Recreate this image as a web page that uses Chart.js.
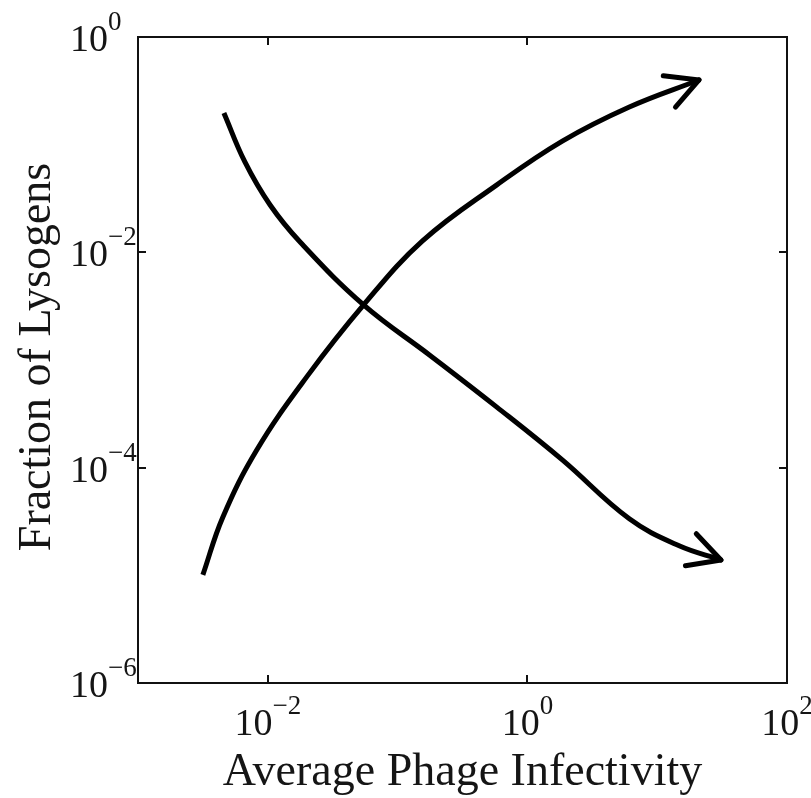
<!DOCTYPE html>
<html>
<head>
<meta charset="utf-8">
<script src="https://cdn.jsdelivr.net/npm/chart.js@4.4.1/dist/chart.umd.min.js"></script>
<style>
  html, body { margin: 0; padding: 0; background: #fff; }
  #wrap { width: 811px; height: 798px; }
</style>
</head>
<body>
<div id="wrap"><canvas id="mycanvas" width="811" height="798"></canvas></div>
<script>
// lysogen fraction going up with infectivity
var riseX = [0.00316, 0.00451, 0.00822, 0.01995, 0.0547, 0.1556, 0.578, 1.858, 6.10, 21.0];
var riseY = [1.01e-5, 3.49e-5, 1.46e-4, 6.97e-4, 3.25e-3, 0.01276, 0.0421, 0.108, 0.224, 0.399];

// lysogen fraction going down with infectivity
var fallX = [0.00459, 0.00666, 0.01042, 0.01781, 0.0547, 0.176, 0.578, 1.858, 6.10, 14.76, 31.0];
var fallY = [0.197, 0.0691, 0.0275, 0.01240, 3.25e-3, 1.114e-3, 3.67e-4, 1.18e-4, 3.35e-5, 1.88e-5, 1.39e-5];

// decade ticks and their exponents
var xTicks = [1e-2, 1e0, 1e2];
var xExp = ["\u22122", "0", "2"];
var yTicks = [1e0, 1e-2, 1e-4, 1e-6];
var yExp = ["0", "\u22122", "\u22124", "\u22126"];

var xTitle = "Average Phage Infectivity";
var yTitle = "Fraction of Lysogens";

var serif = "'Liberation Serif', 'Times New Roman', serif";
var ink = "#151515";

function toPoints(xs, ys) {
	var pts = [];
	for (var i in xs) {
		pts.push({x: xs[i], y: ys[i]});
	}
	return pts;
}

function line(ctx, x1, y1, x2, y2) {
	ctx.beginPath();
	ctx.moveTo(x1, y1);
	ctx.lineTo(x2, y2);
	ctx.stroke();
}

// "10" with a raised exponent, x is where the label starts
function powerLabel(ctx, x, base, exp) {
	ctx.font = "38px " + serif;
	ctx.fillText("10", x, base);
	var w = ctx.measureText("10").width;
	ctx.font = "27px " + serif;
	ctx.fillText(exp, x + w, base - 21);
}

function powerWidth(ctx, exp) {
	ctx.font = "38px " + serif;
	var w = ctx.measureText("10").width;
	ctx.font = "27px " + serif;
	return w + ctx.measureText(exp).width;
}

// box, inward ticks, labels and titles
var axesBox = {
	id: "axesBox",
	afterDraw: function(chart) {
		var ctx = chart.ctx;
		var a = chart.chartArea;
		var xs = chart.scales.x;
		var ys = chart.scales.y;
		ctx.save();
		ctx.strokeStyle = "#111";
		ctx.lineWidth = 2;
		ctx.lineCap = "butt";
		ctx.strokeRect(a.left, a.top, a.right - a.left, a.bottom - a.top);

		for (var i in xTicks) {
			var px = Math.round(xs.getPixelForValue(xTicks[i]));
			line(ctx, px, a.bottom, px, a.bottom - 8);
			line(ctx, px, a.top, px, a.top + 8);
		}
		for (var j in yTicks) {
			var py = Math.round(ys.getPixelForValue(yTicks[j]));
			line(ctx, a.left, py, a.left + 8, py);
			line(ctx, a.right, py, a.right - 8, py);
		}

		ctx.fillStyle = ink;
		ctx.textAlign = "left";
		ctx.textBaseline = "alphabetic";
		for (var i in xTicks) {
			var px = xs.getPixelForValue(xTicks[i]);
			var w = powerWidth(ctx, xExp[i]);
			powerLabel(ctx, px - w / 2, a.bottom + 52, xExp[i]);
		}
		for (var j in yTicks) {
			var py = ys.getPixelForValue(yTicks[j]);
			powerLabel(ctx, a.left - 68, py + 14, yExp[j]);
		}

		ctx.font = "46px " + serif;
		ctx.textAlign = "center";
		ctx.fillText(xTitle, (a.left + a.right) / 2, a.bottom + 102);

		ctx.translate(50, (a.top + a.bottom) / 2 - 3);
		ctx.rotate(-Math.PI / 2);
		ctx.fillText(yTitle, 0, 0);
		ctx.restore();
	}
};

// open arrow heads at the end of each curve
var arrowHeads = {
	id: "arrowHeads",
	afterDatasetsDraw: function(chart) {
		var ctx = chart.ctx;
		ctx.save();
		ctx.strokeStyle = "#000";
		ctx.lineWidth = 5;
		ctx.lineCap = "round";
		for (var d = 0; d < chart.data.datasets.length; d++) {
			var pts = chart.getDatasetMeta(d).data;
			var tip = pts[pts.length - 1];
			var prev = pts[pts.length - 2];
			var back = Math.atan2(prev.y - tip.y, prev.x - tip.x);
			var len = 36;
			var spread = 28 * Math.PI / 180;
			line(ctx, tip.x, tip.y, tip.x + len * Math.cos(back + spread), tip.y + len * Math.sin(back + spread));
			line(ctx, tip.x, tip.y, tip.x + len * Math.cos(back - spread), tip.y + len * Math.sin(back - spread));
		}
		ctx.restore();
	}
};

var chartdata = {
	datasets: [
		{
			label: "rising",
			data: toPoints(riseX, riseY),
			borderColor: "#000",
			borderWidth: 5,
			borderCapStyle: "butt",
			tension: 0.4,
			pointRadius: 0,
			fill: false
		},
		{
			label: "falling",
			data: toPoints(fallX, fallY),
			borderColor: "#000",
			borderWidth: 5,
			borderCapStyle: "butt",
			tension: 0.4,
			pointRadius: 0,
			fill: false
		}
	]
};

var ctx = document.getElementById("mycanvas");

var LogGraph = new Chart(ctx, {
	type: "line",
	data: chartdata,
	options: {
		responsive: false,
		animation: false,
		layout: { padding: { left: 138, top: 37, right: 24, bottom: 115 } },
		plugins: {
			legend: { display: false },
			tooltip: { enabled: false }
		},
		scales: {
			x: { type: "logarithmic", min: 1e-3, max: 1e2, display: false },
			y: { type: "logarithmic", min: 1e-6, max: 1, display: false }
		}
	},
	plugins: [axesBox, arrowHeads]
});
</script>
</body>
</html>
